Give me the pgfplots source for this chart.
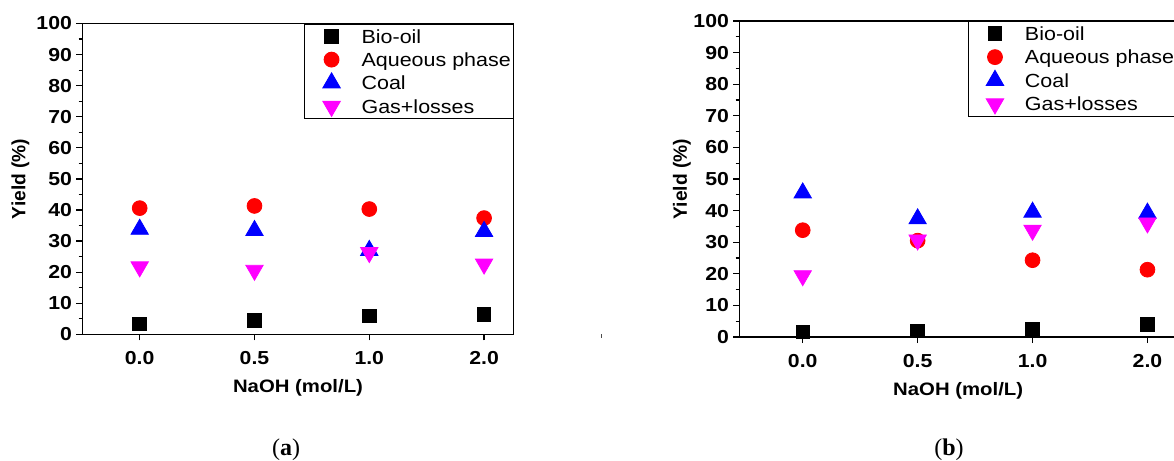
\documentclass[border=0pt]{standalone}
\usepackage{fontspec}
\setmainfont{Liberation Sans}[FakeStretch=1.13]
\newfontfamily\plainsans{Liberation Sans}
\newfontfamily\capfont{Liberation Serif}
\usepackage{pgfplots}
\usepackage{pgfplotstable}
\pgfplotsset{compat=1.18}
\definecolor{cblack}{RGB}{0,0,0}
\definecolor{cred}{RGB}{255,0,0}
\definecolor{cblue}{RGB}{0,0,255}
\definecolor{cmag}{RGB}{255,0,255}

\pgfplotstableread{
x bio aq coal gas
0 3.3 40.6 33.8 21.7
1 4.5 41.3 33.4 20.6
2 5.9 40.3 27.0 26.3
3 6.5 37.4 33.1 22.6
}\tableA
\pgfplotstableread{
x bio aq coal gas
0 1.6 33.8 45.6 19.4
1 1.9 30.5 37.4 30.7
2 2.5 24.3 39.5 33.8
3 3.9 21.3 39.2 36.1
}\tableB

\pgfplotsset{
  leg/.style={legend image code/.code={\path[draw=none,fill=none] (0pt,-1pt) rectangle (24.3pt,1pt);\draw[mark repeat=2,mark phase=2,##1] plot coordinates {(0pt,0pt) (12.15pt,0pt) (24.3pt,0pt)};}},
  panel/.style={
    scale only axis,
    ymin=0, ymax=100, ytick={0,10,...,100}, minor y tick num=1,
    xtick={0,1,2,3}, xticklabels={0.0,0.5,1.0,2.0},
    xtick pos=bottom, ytick pos=left,
    tick align=outside, major tick length=3pt, minor tick length=1.8pt,
    axis line style={line width=0.6pt},
    every tick/.style={black, line width=0.6pt},
    /pgf/number format/assume math mode=true,
    ticklabel style={font=\bfseries\fontsize{9.4}{10}\selectfont},
    yticklabel style={inner sep=2pt},
    xticklabel style={inner sep=0pt, text height=6.7pt, text depth=0pt, yshift=-5.2pt},
    xlabel={NaOH (mol/L)},
    ylabel={Yield (\%)},
    xlabel style={at={([yshift=-26.7pt]axis description cs:0.5,0)}, anchor=center, font=\bfseries\fontsize{9}{10}\selectfont},
    legend style={at={(1,1)}, anchor=north east, draw=black, line width=0.5pt,
      inner xsep=1.2pt, inner ysep=0.3pt, column sep=2.85pt, row sep=0pt,
      font=\fontsize{9.5}{11}\selectfont, cells={anchor=west},
      nodes={inner sep=0pt, text height=8.8pt, text depth=2pt, minimum height=11.67pt}},
  }
}

\begin{document}
\begin{tikzpicture}
\path[use as bounding box, clip] (0,0) rectangle (587pt,-230.5pt);
\begin{axis}[panel, at={(41.15pt,-167.15pt)}, anchor=south west,
  width=215.7pt, height=155.4pt, xmin=-0.5, xmax=3.258,
  ylabel style={at={([xshift=-31pt]axis description cs:0,0.5)}, anchor=center, font=\plainsans\bfseries\fontsize{9.6}{10}\selectfont}]
\addplot[only marks, mark=square*, mark size=3.4pt, cblack, leg] table[x=x,y=bio]{\tableA};
\addplot[only marks, mark=*, mark size=3.7pt, cred, leg] table[x=x,y=aq]{\tableA};
\addplot[only marks, mark=triangle*, mark size=5pt, cblue, leg] table[x=x,y=coal]{\tableA};
\addplot[only marks, mark=triangle*, mark options={rotate=180}, mark size=5pt, cmag, leg] table[x=x,y=gas]{\tableA};
\legend{Bio-oil, Aqueous phase, Coal, Gas+losses}
\end{axis}
\begin{axis}[panel, at={(369.65pt,-168.5pt)}, anchor=south west,
  width=218.9pt, height=158pt, xmin=-0.552, xmax=3.258,
  ylabel style={at={([xshift=-28.7pt]axis description cs:0,0.5)}, anchor=center, font=\plainsans\bfseries\fontsize{9.6}{10}\selectfont}]
\addplot[only marks, mark=square*, mark size=3.4pt, cblack, leg] table[x=x,y=bio]{\tableB};
\addplot[only marks, mark=*, mark size=3.7pt, cred, leg] table[x=x,y=aq]{\tableB};
\addplot[only marks, mark=triangle*, mark size=5pt, cblue, leg] table[x=x,y=coal]{\tableB};
\addplot[only marks, mark=triangle*, mark options={rotate=180}, mark size=5pt, cmag, leg] table[x=x,y=gas]{\tableB};
\legend{Bio-oil, Aqueous phase, Coal, Gas+losses}
\end{axis}
\draw[line width=0.5pt, black!70] (300.5pt,-167.2pt) -- (300.5pt,-169pt);
\node[font=\capfont\fontsize{12}{13}\selectfont] at (143pt,-224.7pt) {(\textbf{a})};
\node[font=\capfont\fontsize{12}{13}\selectfont] at (474.5pt,-224.7pt) {(\textbf{b})};
\end{tikzpicture}
\end{document}
